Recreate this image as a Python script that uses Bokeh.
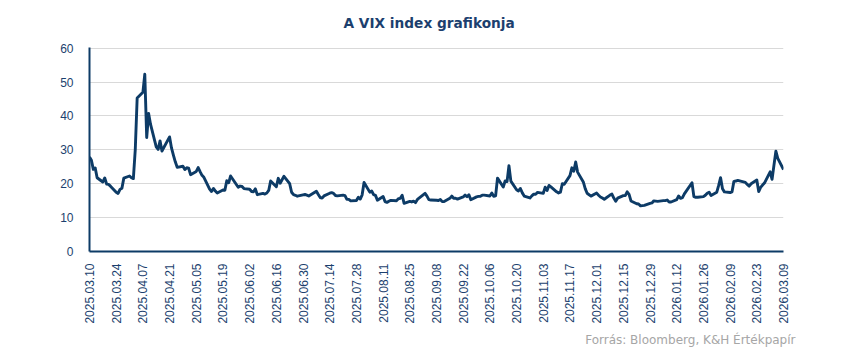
import pandas as pd
from bokeh.plotting import figure
from bokeh.models import Range1d, FixedTicker, DatetimeTickFormatter, Title, ColumnDataSource
from bokeh.embed import file_html
from bokeh.resources import INLINE
import math

dates = [
    # 2025 March
    "2025-03-10", "2025-03-11", "2025-03-12", "2025-03-13", "2025-03-14", "2025-03-17", "2025-03-18", "2025-03-19",
    "2025-03-20", "2025-03-21", "2025-03-24", "2025-03-25", "2025-03-26", "2025-03-27", "2025-03-28", "2025-03-31",
    # April
    "2025-04-01", "2025-04-02", "2025-04-03", "2025-04-04", "2025-04-07", "2025-04-08", "2025-04-09", "2025-04-10",
    "2025-04-11", "2025-04-14", "2025-04-15", "2025-04-16", "2025-04-17", "2025-04-21", "2025-04-22", "2025-04-23",
    "2025-04-24", "2025-04-25", "2025-04-28", "2025-04-29", "2025-04-30",
    # May
    "2025-05-01", "2025-05-02", "2025-05-05", "2025-05-06", "2025-05-07", "2025-05-08", "2025-05-09", "2025-05-12",
    "2025-05-13", "2025-05-14", "2025-05-15", "2025-05-16", "2025-05-19", "2025-05-20", "2025-05-21", "2025-05-22",
    "2025-05-23", "2025-05-27", "2025-05-28", "2025-05-29", "2025-05-30",
    # June
    "2025-06-02", "2025-06-03", "2025-06-04", "2025-06-05", "2025-06-06", "2025-06-09", "2025-06-10", "2025-06-11",
    "2025-06-12", "2025-06-13", "2025-06-16", "2025-06-17", "2025-06-18", "2025-06-20", "2025-06-23", "2025-06-24",
    "2025-06-25", "2025-06-26", "2025-06-27", "2025-06-30",
    # July
    "2025-07-01", "2025-07-02", "2025-07-03", "2025-07-07", "2025-07-08", "2025-07-09", "2025-07-10", "2025-07-11",
    "2025-07-14", "2025-07-15", "2025-07-16", "2025-07-17", "2025-07-18", "2025-07-21", "2025-07-22", "2025-07-23",
    "2025-07-24", "2025-07-25", "2025-07-28", "2025-07-29", "2025-07-30", "2025-07-31",
    # August
    "2025-08-01", "2025-08-04", "2025-08-05", "2025-08-06", "2025-08-07", "2025-08-08", "2025-08-11", "2025-08-12",
    "2025-08-13", "2025-08-14", "2025-08-15", "2025-08-18", "2025-08-19", "2025-08-20", "2025-08-21", "2025-08-22",
    "2025-08-25", "2025-08-26", "2025-08-27", "2025-08-28", "2025-08-29",
    # September
    "2025-09-02", "2025-09-03", "2025-09-04", "2025-09-05", "2025-09-08", "2025-09-09", "2025-09-10", "2025-09-11",
    "2025-09-12", "2025-09-15", "2025-09-16", "2025-09-17", "2025-09-18", "2025-09-19", "2025-09-22", "2025-09-23",
    "2025-09-24", "2025-09-25", "2025-09-26", "2025-09-29", "2025-09-30",
    # October
    "2025-10-01", "2025-10-02", "2025-10-03", "2025-10-06", "2025-10-07", "2025-10-08", "2025-10-09", "2025-10-10",
    "2025-10-13", "2025-10-14", "2025-10-15", "2025-10-16", "2025-10-17", "2025-10-20", "2025-10-21", "2025-10-22",
    "2025-10-23", "2025-10-24", "2025-10-27", "2025-10-28", "2025-10-29", "2025-10-30", "2025-10-31",
    # November
    "2025-11-03", "2025-11-04", "2025-11-05", "2025-11-06", "2025-11-07", "2025-11-10", "2025-11-11", "2025-11-12",
    "2025-11-13", "2025-11-14", "2025-11-17", "2025-11-18", "2025-11-19", "2025-11-20", "2025-11-21", "2025-11-24",
    "2025-11-25", "2025-11-26", "2025-11-28",
    # December
    "2025-12-01", "2025-12-02", "2025-12-03", "2025-12-04", "2025-12-05", "2025-12-08", "2025-12-09", "2025-12-10",
    "2025-12-11", "2025-12-12", "2025-12-15", "2025-12-16", "2025-12-17", "2025-12-18", "2025-12-19", "2025-12-22",
    "2025-12-23", "2025-12-24", "2025-12-26", "2025-12-29", "2025-12-30", "2025-12-31",
    # 2026 January
    "2026-01-02", "2026-01-05", "2026-01-06", "2026-01-07", "2026-01-08", "2026-01-09", "2026-01-12", "2026-01-13",
    "2026-01-14", "2026-01-15", "2026-01-16", "2026-01-20", "2026-01-21", "2026-01-22", "2026-01-23", "2026-01-26",
    "2026-01-27", "2026-01-28", "2026-01-29", "2026-01-30",
    # February
    "2026-02-02", "2026-02-03", "2026-02-04", "2026-02-05", "2026-02-06", "2026-02-09", "2026-02-10", "2026-02-11",
    "2026-02-12", "2026-02-13", "2026-02-17", "2026-02-18", "2026-02-19", "2026-02-20", "2026-02-23", "2026-02-24",
    "2026-02-25", "2026-02-26", "2026-02-27",
    # March
    "2026-03-02", "2026-03-03", "2026-03-04", "2026-03-05", "2026-03-06", "2026-03-09",
]

vix = [
    # 2025 March
    27.86, 26.92, 24.23, 24.66, 21.77, 20.51, 21.70, 19.90,
    19.80, 19.28, 17.48, 17.15, 18.33, 18.69, 21.65, 22.28,
    # April
    21.77, 21.51, 30.02, 45.31, 46.98, 52.33, 33.62, 40.72,
    37.56, 30.89, 30.12, 32.64, 29.65, 33.82, 30.57, 28.45,
    26.47, 24.84, 25.15, 24.17, 24.70,
    # May
    24.60, 22.68, 23.64, 24.76, 23.55, 22.48, 21.90, 18.39,
    17.72, 18.62, 17.83, 17.24, 18.14, 18.09, 20.87, 20.28,
    22.29, 18.96, 19.31, 19.18, 18.57,
    # June
    18.36, 17.69, 17.61, 18.48, 16.77, 17.16, 16.95, 17.26,
    18.02, 20.82, 19.11, 21.60, 20.14, 22.20, 20.00, 17.48,
    16.76, 16.59, 16.32, 16.73,
    # July
    16.83, 16.64, 16.38, 17.79, 16.81, 15.94, 15.78, 16.40,
    17.20, 17.38, 17.16, 16.52, 16.41, 16.65, 16.50, 15.37,
    15.39, 14.93, 15.03, 15.98, 15.48, 16.72,
    # August
    20.38, 17.52, 17.85, 16.77, 16.57, 15.15, 16.25, 14.73,
    14.49, 14.83, 15.09, 14.99, 15.57, 15.69, 16.60, 14.22,
    14.79, 14.62, 14.85, 14.43, 15.36,
    # September
    17.17, 16.35, 15.30, 15.18, 15.11, 15.04, 15.35, 14.71,
    14.76, 15.69, 16.36, 15.72, 15.70, 15.45, 16.10, 16.64,
    16.18, 16.74, 15.29, 16.12, 16.28,
    # October
    16.29, 16.63, 16.65, 16.37, 17.24, 16.30, 16.43, 21.66,
    19.03, 20.81, 20.64, 25.31, 20.78, 18.23, 17.87, 18.60,
    17.30, 16.37, 15.79, 16.42, 16.92, 16.91, 17.44,
    # November
    17.17, 19.00, 18.01, 19.50, 19.08, 17.60, 17.28, 17.51,
    20.00, 19.83, 22.38, 24.69, 23.66, 26.42, 23.43, 20.52,
    18.56, 17.19, 16.35,
    # December
    17.24, 16.59, 16.08, 15.78, 15.41, 16.66, 16.93, 15.77,
    14.85, 15.74, 16.50, 16.48, 17.62, 16.87, 14.91, 14.08,
    14.00, 13.47, 13.60, 14.20, 14.33, 14.95,
    # 2026 January
    14.8, 15.0, 15.0, 15.2, 14.6, 14.6, 15.3, 16.4,
    15.7, 15.9, 17.0, 20.3, 16.2, 16.0, 16.0, 16.2,
    16.6, 17.2, 17.5, 16.5,
    # February
    17.5, 19.5, 21.8, 18.5, 17.6, 17.4, 17.6, 20.7,
    20.8, 21.0, 20.4, 19.8, 19.3, 20.0, 21.1, 17.7,
    18.9, 19.6, 20.2,
    # March
    23.5, 21.3, 25.5, 29.6, 27.5, 24.2,
]

tick_dates = [
    "2025-03-10", "2025-03-24", "2025-04-07", "2025-04-21", "2025-05-05", "2025-05-19", "2025-06-02",
    "2025-06-16", "2025-06-30", "2025-07-14", "2025-07-28", "2025-08-11", "2025-08-25", "2025-09-08",
    "2025-09-22", "2025-10-06", "2025-10-20", "2025-11-03", "2025-11-17", "2025-12-01", "2025-12-15",
    "2025-12-29", "2026-01-12", "2026-01-26", "2026-02-09", "2026-02-23", "2026-03-09",
]
y_ticks = [0, 10, 20, 30, 40, 50, 60]

title_text = "A VIX index grafikonja"
source_text = "Forrás: Bloomberg, K&H Értékpapír"

NAVY = "#0d3b66"
LABEL = "#1c3f6e"

x = pd.to_datetime(dates)
src = ColumnDataSource(data=dict(x=x, y=vix))

p = figure(width=850, height=352, x_axis_type="datetime", output_backend="svg",
           toolbar_location=None, tools="",
           x_range=Range1d(pd.Timestamp(dates[0]), pd.Timestamp(dates[-1])),
           y_range=Range1d(y_ticks[0], y_ticks[-1] + 0.2),
           min_border_left=89, min_border_right=67, min_border_top=47, min_border_bottom=101)
p.outline_line_color = None
p.background_fill_color = "white"
p.border_fill_color = "white"

p.line("x", "y", source=src, line_color=NAVY, line_width=2.9, line_join="round")

tick_ms = [pd.Timestamp(d).value // 10**6 for d in tick_dates]
p.xaxis.ticker = FixedTicker(ticks=tick_ms)
p.xaxis.formatter = DatetimeTickFormatter(days="%Y.%m.%d", months="%Y.%m.%d", years="%Y.%m.%d")
p.xaxis.major_label_orientation = math.pi / 2
p.xaxis.major_label_text_font = "Liberation Sans"
p.xaxis.major_label_text_font_size = "12px"
p.xaxis.major_label_text_color = LABEL
p.xaxis.major_label_standoff = 6
p.xaxis.axis_line_color = NAVY
p.xaxis.axis_line_width = 2
p.xaxis.major_tick_line_color = None
p.xaxis.minor_tick_line_color = None

p.yaxis.ticker = FixedTicker(ticks=y_ticks)
p.yaxis.major_label_text_font = "Liberation Sans"
p.yaxis.major_label_text_font_size = "12px"
p.yaxis.major_label_text_color = LABEL
p.yaxis.major_label_standoff = 10
p.yaxis.axis_line_color = NAVY
p.yaxis.axis_line_width = 2
p.yaxis.major_tick_line_color = None
p.yaxis.minor_tick_line_color = None

p.xgrid.grid_line_color = None
p.ygrid.grid_line_color = "#d9d9d9"
p.ygrid.grid_line_width = 1

p.add_layout(Title(text=title_text, align="left", vertical_align="top", text_font="DejaVu Sans",
                   text_font_style="bold", text_font_size="13.7px", text_color="#1c3f6e",
                   standoff=29, offset=254), "above")
p.add_layout(Title(text=source_text, align="right", text_font="DejaVu Sans",
                   text_font_style="normal", text_font_size="12px", text_color="#a6a6a6",
                   standoff=9, offset=-12), "below")

open("out.html", "w").write(file_html(p, INLINE))
